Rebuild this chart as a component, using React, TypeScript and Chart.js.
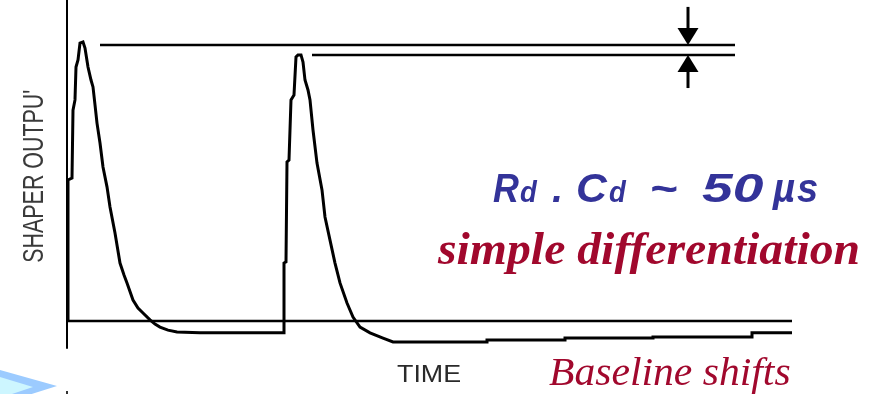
import React, { useEffect, useRef } from "react";
import { Chart, registerables } from "chart.js";

Chart.register(...registerables);

// Shaper output trace (time in arbitrary units, amplitude in % of first peak)
const pulseTime = [
  0.2, 0.2, 1.0, 1.2, 1.6, 1.8, 2.2, 2.6, 3.2, 3.6, 4.2, 4.8, 5.2, 5.6, 6.0, 6.6, 7.2, 8.0, 8.6, 9.6,
  10.6, 11.4, 12.0, 13.2, 14.2, 15.2, 16.6, 17.6, 18.6, 20.2, 22.0, 26.6, 43.4,
  43.4, 43.8, 44.0, 44.4, 44.8, 45.4, 45.8, 46.2, 46.8, 47.2, 47.6, 48.2, 48.6, 49.2, 50.0, 51.0, 51.6,
  52.6, 53.6, 54.6, 56.0, 57.2, 58.6, 60.6, 63.2, 65.2, 84.0, 84.0, 99.6, 99.6, 117.2, 117.2, 137.0,
  137.0, 145.0,
];
const pulseAmp = [
  0, 51.1, 51.8, 76.4, 80.1, 92.0, 94.6, 100.7, 101.1, 98.9, 92.0, 87.3, 84.8, 78.3, 71.7, 64.5, 55.8,
  48.6, 41.3, 31.9, 21.0, 16.7, 13.8, 7.6, 4.7, 2.9, 0.4, -1.1, -2.2, -3.3, -4.0, -4.3, -4.3,
  21.0, 21.4, 57.6, 58.3, 80.1, 81.9, 95.7, 96.4, 96.4, 93.8, 87.3, 83.7, 80.1, 69.2, 57.2, 47.5, 37.7,
  29.3, 21.0, 13.8, 6.5, 1.4, -2.2, -4.3, -6.2, -7.6, -7.6, -6.9, -6.9, -6.2, -6.2, -5.8, -5.8,
  -4.3, -4.3,
];

// Reference lines
const baselineTime = [0, 145];
const baselineAmp = [0, 0];
const peak1LineTime = [6.6, 133.6];
const peak1LineAmp = [100, 100];
const peak2LineTime = [49.0, 133.6];
const peak2LineAmp = [96.4, 96.4];
const axisTime = [0, 0];
const axisAmp = [-10.1, 116.3];

// Arrows marking the peak difference
const arrowTime = [124.2, 124.2];
const arrowTail = [113.8, 84.4];
const arrowTip = [100, 96.4];

// Scale ranges
const timeRange = [-13.4, 160.4];
const ampRange = [-26.45, 116.3];

const pts = (ts: number[], as: number[]) => ts.map((t, i) => ({ x: t, y: as[i] }));

export default function App() {
  const ref = useRef<HTMLCanvasElement>(null);

  useEffect(() => {
    document.body.style.margin = "0";
    const canvas = ref.current;
    if (!canvas) return;

    // draw text so that its ink spans [x0, x1]
    const fitInk = (ctx: CanvasRenderingContext2D, text: string, font: string, x0: number, x1: number, y: number) => {
      ctx.font = font;
      const m = ctx.measureText(text);
      const left = -m.actualBoundingBoxLeft;
      const right = m.actualBoundingBoxRight;
      const sx = (x1 - x0) / Math.max(1, right - left);
      ctx.save();
      ctx.translate(x0 - left * sx, y);
      ctx.scale(sx, 1);
      ctx.fillText(text, 0, 0);
      ctx.restore();
    };

    const annot = {
      id: "annot",
      beforeDatasetsDraw(chart: any) {
        const ctx = chart.ctx;
        ctx.save();
        ctx.fillStyle = "#9ccbff";
        ctx.beginPath();
        ctx.moveTo(0, 370);
        ctx.lineTo(57, 386);
        ctx.lineTo(0, 404);
        ctx.closePath();
        ctx.fill();
        ctx.fillStyle = "#cdf6ff";
        ctx.beginPath();
        ctx.moveTo(0, 377);
        ctx.lineTo(33, 387);
        ctx.lineTo(0, 398);
        ctx.closePath();
        ctx.fill();
        ctx.fillStyle = "#333";
        ctx.fillRect(66, 391, 2, 3);
        ctx.restore();
      },
      afterDraw(chart: any) {
        const ctx = chart.ctx;
        const xs = chart.scales.x;
        const ys = chart.scales.y;
        ctx.save();
        ctx.fillStyle = "#000";
        ctx.strokeStyle = "#000";
        for (let i = 0; i < arrowTime.length; i++) {
          const px = xs.getPixelForValue(arrowTime[i]);
          const pTail = ys.getPixelForValue(arrowTail[i]);
          const pTip = ys.getPixelForValue(arrowTip[i]);
          const dir = Math.sign(pTip - pTail);
          const headLen = 17;
          const headW = 21;
          ctx.lineWidth = 3;
          ctx.beginPath();
          ctx.moveTo(px, pTail);
          ctx.lineTo(px, pTip - dir * headLen);
          ctx.stroke();
          ctx.beginPath();
          ctx.moveTo(px, pTip);
          ctx.lineTo(px - headW / 2, pTip - dir * headLen);
          ctx.lineTo(px + headW / 2, pTip - dir * headLen);
          ctx.closePath();
          ctx.fill();
        }

        ctx.textBaseline = "alphabetic";
        ctx.textAlign = "left";

        // y-axis label (rotated, condensed)
        ctx.save();
        ctx.translate(43, 262);
        ctx.rotate(-Math.PI / 2);
        ctx.fillStyle = "#3a3a3a";
        fitInk(ctx, "SHAPER OUTPU'", '29px "Liberation Sans"', 0, 172, 0);
        ctx.restore();

        // x-axis label
        ctx.fillStyle = "#2a2a2a";
        fitInk(ctx, "TIME", '24px "Liberation Sans"', 397, 460, 382);

        // Rd . Cd ~ 50 µs
        ctx.fillStyle = "#333399";
        const big = 'italic bold 40px "Liberation Sans"';
        const small = 'italic bold 29px "Liberation Sans"';
        const pieces: [string, number, number, string][] = [
          ["R", 493, 519, big],
          ["d", 520, 538, small],
          [".", 552, 560, big],
          ["C", 577, 608, big],
          ["d", 609, 627, small],
          ["~", 652, 677, big],
          ["50", 702, 763, big],
          ["\u00b5", 772, 795, big],
          ["s", 797, 817, big],
        ];
        for (const [t, x0, x1, f] of pieces) fitInk(ctx, t, f, x0, x1, 202);

        // simple differentiation
        ctx.fillStyle = "#a1082d";
        fitInk(ctx, "simple differentiation", 'italic bold 47px "Liberation Serif"', 437, 858, 264);

        // Baseline shifts
        fitInk(ctx, "Baseline shifts", 'italic 40px "Liberation Serif"', 549, 790, 385);

        ctx.restore();
      },
    };

    const lineDs = (data: any[], width: number) => ({
      data,
      showLine: true,
      borderColor: "#000",
      backgroundColor: "#000",
      borderWidth: width,
      pointRadius: 0,
      pointHoverRadius: 0,
      tension: 0,
      fill: false,
      clip: false as any,
      borderJoinStyle: "miter" as const,
    });

    const chart = new Chart(canvas, {
      type: "scatter",
      data: {
        datasets: [
          lineDs(pts(axisTime, axisAmp), 2),
          lineDs(pts(baselineTime, baselineAmp), 2.5),
          lineDs(pts(peak1LineTime, peak1LineAmp), 2.5),
          lineDs(pts(peak2LineTime, peak2LineAmp), 2.5),
          lineDs(pts(pulseTime, pulseAmp), 3),
        ],
      },
      options: {
        animation: false,
        responsive: true,
        maintainAspectRatio: false,
        layout: { padding: 0 },
        plugins: {
          legend: { display: false },
          tooltip: { enabled: false },
        },
        events: [],
        scales: {
          x: { type: "linear", min: timeRange[0], max: timeRange[1], display: false },
          y: { type: "linear", min: ampRange[0], max: ampRange[1], display: false },
        },
      },
      plugins: [annot],
    });

    return () => chart.destroy();
  }, []);

  return (
    <div style={{ position: "absolute", left: 0, top: 0, width: 869, height: 394, background: "#fff" }}>
      <canvas ref={ref} />
    </div>
  );
}
